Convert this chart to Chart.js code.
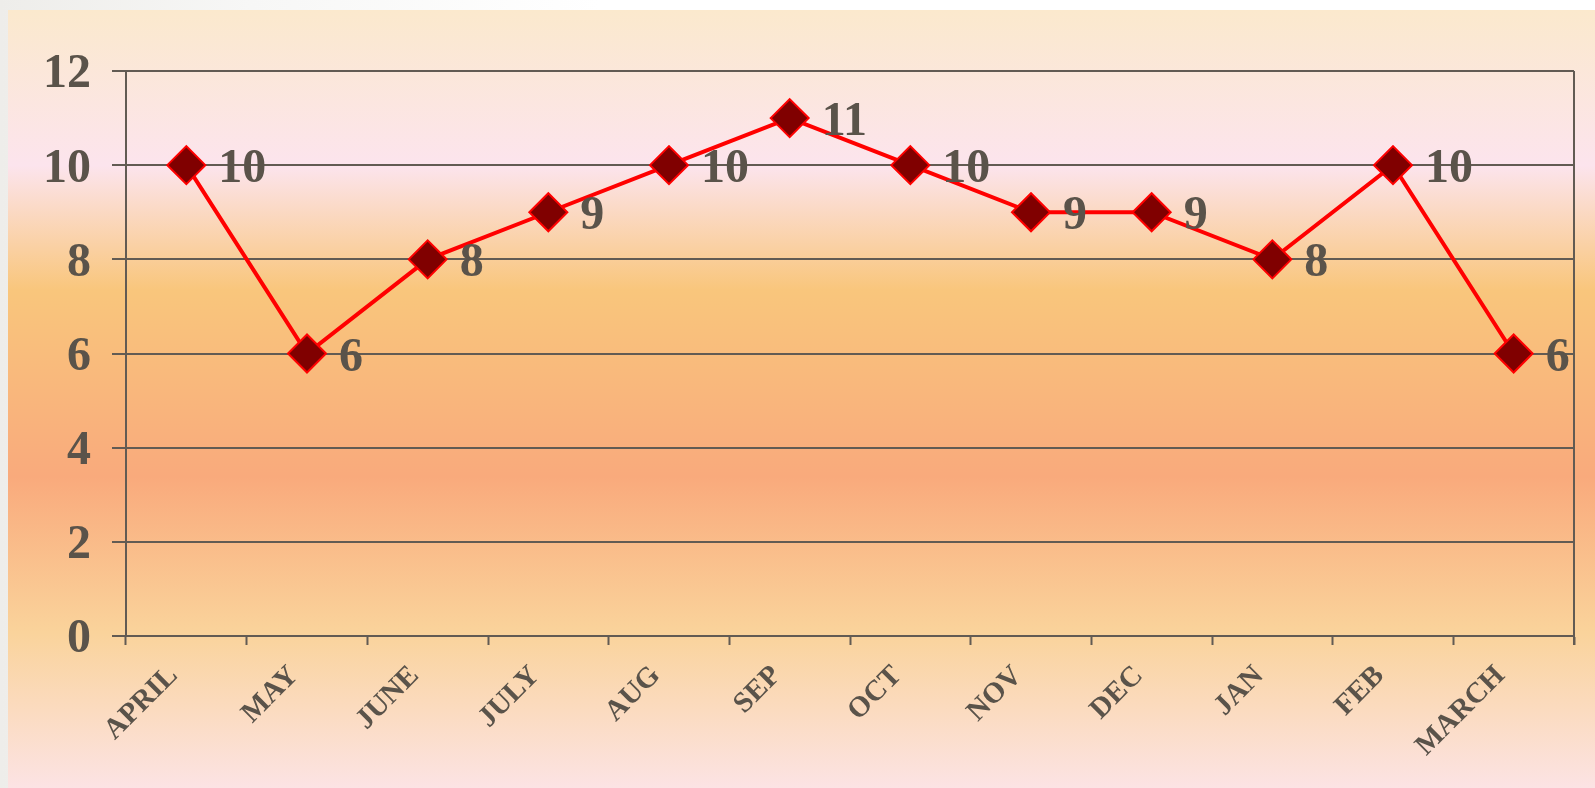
<!DOCTYPE html>
<html>
<head>
<meta charset="utf-8">
<script src="https://cdn.jsdelivr.net/npm/chart.js@4/dist/chart.umd.min.js"></script>
<style>
  html, body { margin: 0; padding: 0; }
  body {
    width: 1595px; height: 788px; overflow: hidden;
    background: linear-gradient(to right, #eeedea 0px, #f7f7f6 250px, #ffffff 600px);
  }
  #wrap {
    position: absolute; left: 8px; top: 10px; width: 1587px; height: 778px;
    background: linear-gradient(to bottom,
      #fbe9cd 0%, #fce4ed 20%, #f9c67c 36%, #f9aa7c 60%, #fad39b 80%, #fce3e4 100%);
  }
</style>
</head>
<body>
<div id="wrap"><canvas id="chart"></canvas></div>
<script>
// months and values
const months = ["APRIL", "MAY", "JUNE", "JULY", "AUG", "SEP", "OCT", "NOV", "DEC", "JAN", "FEB", "MARCH"];
const values = [10, 6, 8, 9, 10, 11, 10, 9, 9, 8, 10, 6];
const yTicks = [0, 2, 4, 6, 8, 10, 12];

const axisGray = "#625b53"; // lines and borders
const textGray = "#5a534a"; // all text
const serif = "'Liberation Serif', 'Times New Roman', serif";

// value labels to the right of each diamond
const valueLabels = {
  id: "valueLabels",
  afterDatasetsDraw(chart) {
    const ctx = chart.ctx;
    const meta = chart.getDatasetMeta(0);
    ctx.save();
    ctx.font = "bold 48px " + serif;
    ctx.fillStyle = textGray;
    ctx.textAlign = "left";
    ctx.textBaseline = "alphabetic";
    meta.data.forEach((pt, i) => {
      ctx.fillText(values[i], pt.x + 32, pt.y + 17);
    });
    ctx.restore();
  }
};

// right side of the plot frame (the top one is the 12 gridline)
const frame = {
  id: "frame",
  beforeDatasetsDraw(chart) {
    const a = chart.chartArea;
    const ctx = chart.ctx;
    ctx.save();
    ctx.strokeStyle = axisGray;
    ctx.lineWidth = 2;
    ctx.beginPath();
    ctx.moveTo(a.right, a.top);
    ctx.lineTo(a.right, a.bottom + 9);
    ctx.stroke();
    ctx.restore();
  }
};

new Chart(document.getElementById("chart"), {
  type: "line",
  data: {
    labels: months,
    datasets: [{
      data: values,
      borderColor: "#ff0000",
      borderWidth: 4,
      tension: 0,
      pointStyle: "rectRot",
      pointRadius: 19,
      pointHoverRadius: 19,
      pointBackgroundColor: "#800000",
      pointBorderColor: "#ff0000",
      pointBorderWidth: 2
    }]
  },
  options: {
    responsive: true,
    maintainAspectRatio: false,
    animation: false,
    events: [],
    layout: { padding: { top: 61, right: 15, left: 0, bottom: 0 } },
    plugins: { legend: { display: false }, tooltip: { enabled: false } },
    scales: {
      x: {
        offset: true,
        afterFit(scale) { scale.height = 152; },
        grid: {
          offset: true,
          drawOnChartArea: false,
          tickLength: 9,
          tickColor: axisGray,
          tickWidth: 2
        },
        border: { color: axisGray, width: 2 },
        ticks: {
          minRotation: 45,
          maxRotation: 45,
          padding: 14,
          labelOffset: -13,
          color: textGray,
          font: { family: serif, size: 29, weight: "bold" }
        }
      },
      y: {
        min: yTicks[0],
        max: yTicks[yTicks.length - 1],
        afterFit(scale) { scale.width = 118; },
        afterBuildTicks(scale) { scale.ticks = yTicks.map(v => ({ value: v })); },
        grid: {
          color: axisGray,
          lineWidth: 2,
          tickLength: 14,
          tickColor: axisGray
        },
        border: { color: axisGray, width: 2 },
        ticks: {
          padding: 21,
          labelOffset: 4,
          color: textGray,
          font: { family: serif, size: 48, weight: "bold" }
        }
      }
    }
  },
  plugins: [frame, valueLabels]
});
</script>
</body>
</html>
